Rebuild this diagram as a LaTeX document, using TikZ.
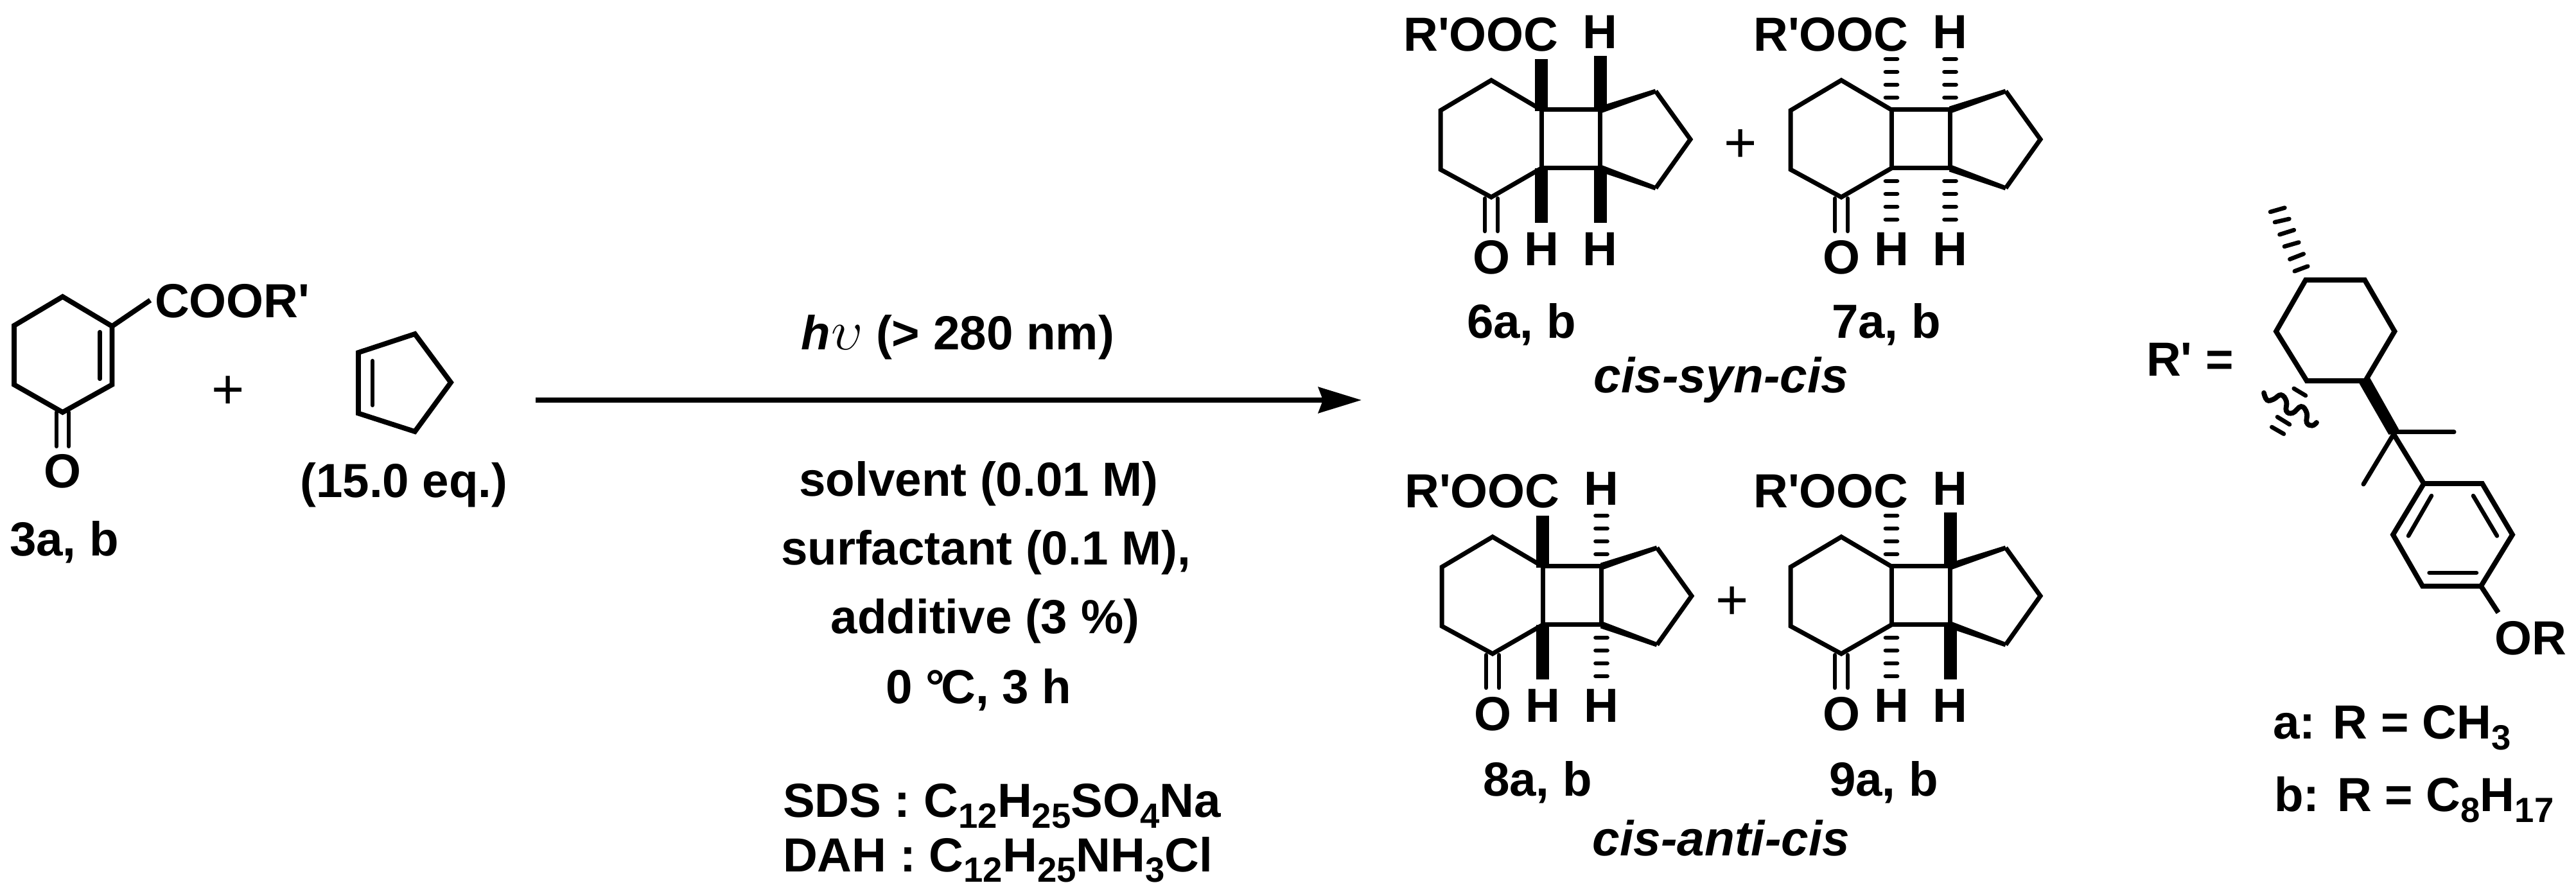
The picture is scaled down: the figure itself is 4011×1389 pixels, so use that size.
\documentclass[tikz,border=0pt]{standalone}
\usepackage{fontspec}
\usetikzlibrary{calc,arrows.meta}
\newfontfamily\chemf{Liberation Sans}
\newcommand{\chsub}[1]{\raisebox{-0.22em}{\fontsize{15.5}{15.5}\selectfont #1}}
\tikzset{
  txt/.style={font=\chemf\bfseries\fontsize{21.2}{21.2}\selectfont,inner sep=0pt,outer sep=0pt,anchor=base},
  txtl/.style={txt,anchor=base west},
  txti/.style={txt,font=\chemf\bfseries\itshape\fontsize{21.8}{21.8}\selectfont},
  plainplus/.style={font=\chemf\fontsize{25}{25}\selectfont,inner sep=0pt,anchor=center},
  bond/.style={line width=0.07cm,line join=miter,line cap=butt},
  bondb/.style={line width=0.078cm,line join=miter,line cap=butt},
  inner bond/.style={line width=0.065cm,line cap=round},
  solidb/.style={line width=0.2cm,line cap=butt},
  hashb/.style={line width=0.067cm,line cap=round},
  hashthin/.style={line width=0.066cm,line cap=round},
  rxn/.style={line width=0.08cm,-{Stealth[length=0.67cm,width=0.4cm,inset=0.07cm]}}
}
\newcommand{\solidup}[2]{\draw[solidb] (#1,173) -- (#1,#2);}
\newcommand{\solidbot}[1]{\draw[solidb] (#1,262) -- (#1,347);}
\newcommand{\hashup}[1]{\foreach \yy in {92,112,132,152} \draw[hashb] (#1-9,\yy) -- (#1+9,\yy);}
\newcommand{\hashbot}[1]{\foreach \yy in {282,302,322,342} \draw[hashb] (#1-9,\yy) -- (#1+9,\yy);}
\newcommand{\taper}[2]{\fill ($(#1)!0.055cm!90:(#2)$) -- ($(#1)!0.055cm!-90:(#2)$) -- ($(#2)!0.035cm!90:(#1)$) -- ($(#2)!0.035cm!-90:(#1)$) -- cycle;}
% #1 prefix, #2 dx, #3 dy, #4 stereo bonds
\newcommand{\tricycle}[4]{%
\begin{scope}[shift={(#2,#3)}]
  \coordinate (#1-ht) at (2322,125);
  \coordinate (#1-ul) at (2243,172);
  \coordinate (#1-ll) at (2243,264);
  \coordinate (#1-hb) at (2322,307);
  \coordinate (#1-sbl) at (2400,262);
  \coordinate (#1-stl) at (2400,171);
  \coordinate (#1-str) at (2491.5,171);
  \coordinate (#1-sbr) at (2491.5,262);
  \coordinate (#1-pt) at (2578,142);
  \coordinate (#1-pr) at (2632,217);
  \coordinate (#1-pb) at (2578,293);
  \coordinate (#1-o1) at (2312,309);
  \coordinate (#1-o2) at (2312,360);
  \coordinate (#1-o3) at (2332,309);
  \coordinate (#1-o4) at (2332,360);
  \draw[bond] (#1-stl) -- (#1-ht) -- (#1-ul) -- (#1-ll) -- (#1-hb) -- (#1-sbl);
  \draw[bond] (#1-stl) -- (#1-str) -- (#1-sbr) -- (#1-sbl) -- cycle;
  \draw[bond] (#1-pt) -- (#1-pr) -- (#1-pb);
  \taper{#1-str}{#1-pt}
  \taper{#1-sbr}{#1-pb}
  \draw[inner bond] (#1-o1) -- (#1-o2);
  \draw[inner bond] (#1-o3) -- (#1-o4);
  #4
  \node[txt] (#1-roc) at (2306,80) {R'OOC};
  \node[txt] (#1-h1) at (2491,76) {H};
  \node[txt] (#1-h3) at (2400,414) {H};
  \node[txt] (#1-h4) at (2491,414) {H};
  \node[txt] (#1-o) at (2322,427) {O};
\end{scope}}
\begin{document}
\begin{tikzpicture}[x=0.01cm,y=-0.01cm]
\useasboundingbox (0,0) rectangle (4011,1389);

% compound 3
\coordinate (a1) at (97.5,462);
\coordinate (a2) at (174.5,508);
\coordinate (a3) at (174.5,599);
\coordinate (a4) at (97.5,642);
\coordinate (a5) at (22,599);
\coordinate (a6) at (22,507);
\coordinate (a7) at (234,467.5);
\coordinate (a8) at (155.5,517);
\coordinate (a9) at (155.5,590);
\coordinate (a10) at (88,642);
\coordinate (a11) at (88,695);
\coordinate (a12) at (107,642);
\coordinate (a13) at (107,695);
\draw[bondb] (a2) -- (a1) -- (a6) -- (a5) -- (a4) -- (a3) -- cycle;
\draw[bondb] (a2) -- (a7);
\draw[inner bond] (a8) -- (a9);
\draw[inner bond] (a10) -- (a11);
\draw[inner bond] (a12) -- (a13);
\node[txtl] (coor) at (241,495) {COOR'};
\node[txt] (o3) at (97.5,760) {O};
\node[txt] (l3) at (100,866) {3a, b};
\node[plainplus] (p1) at (355,611) {+};

% cyclopentene
\coordinate (c1) at (558,549);
\coordinate (c2) at (646,520);
\coordinate (c3) at (702,595.5);
\coordinate (c4) at (646,672);
\coordinate (c5) at (558,643.6);
\coordinate (c6) at (580,562);
\coordinate (c7) at (580,631);
\draw[bondb] (c1) -- (c2) -- (c3) -- (c4) -- (c5) -- cycle;
\draw[inner bond] (c6) -- (c7);
\node[txt] (eq) at (629,775) {(15.0 eq.)};

% reaction arrow
\coordinate (arr1) at (834,623);
\coordinate (arr2) at (2120,623);
\draw[rxn] (arr1) -- (arr2);
\node[txt] (hv) at (1491,545) {{\itshape h}\kern0.02em{\fontsize{23}{23}\selectfont$\upsilon$} (> 280 nm)};
\node[txt] (c1t) at (1524,773) {solvent (0.01 M)};
\node[txt] (c2t) at (1535,880) {surfactant (0.1 M),};
\node[txt] (c3t) at (1534,987) {additive (3 \%)};
\node[txt] (c4t) at (1524,1096) {0 °\kern-0.08em C, 3 h};
\node[txtl] (sds) at (1219,1273) {SDS : C\chsub{12}H\chsub{25}SO\chsub{4}Na};
\node[txtl] (dah) at (1219,1357) {DAH : C\chsub{12}H\chsub{25}NH\chsub{3}Cl};

% products
\tricycle{six}{0}{0}{\solidup{2400}{92}\solidup{2491.5}{87}\solidbot{2400}\solidbot{2491.5}}
\tricycle{sev}{545}{0}{\hashup{2400}\hashup{2491.5}\hashbot{2400}\hashbot{2491.5}}
\tricycle{eig}{2}{711}{\solidup{2400}{92}\hashup{2491.5}\solidbot{2400}\hashbot{2491.5}}
\tricycle{nin}{545}{711}{\hashup{2400}\solidup{2491.5}{87}\hashbot{2400}\solidbot{2491.5}}
\node[plainplus] (p2) at (2710,227) {+};
\node[plainplus] (p3) at (2697,939) {+};
\node[txt] (l6) at (2369,527) {6a, b};
\node[txt] (l7) at (2937,527) {7a, b};
\node[txt] (l8) at (2394,1240) {8a, b};
\node[txt] (l9) at (2933,1240) {9a, b};
\node[txti] (syn) at (2680,612) {cis-syn-cis};
\node[txti] (anti) at (2680,1333) {cis-anti-cis};

% R' group
\node[txtl] (rp) at (3342,586) {R' =};
\coordinate (r1) at (3590,436);
\coordinate (r2) at (3682,436);
\coordinate (r3) at (3728.5,516);
\coordinate (r4) at (3683,593);
\coordinate (r5) at (3591.7,593);
\coordinate (r6) at (3544,516);
\draw[bondb] (r1) -- (r2) -- (r3) -- (r4) -- (r5) -- (r6) -- cycle;
% hashed methyl
\foreach \xa/\ya/\xb/\yb in {547/78/595/68,562/103/610/95,578/133/626/122,594/162/642/152,612/193/658/180,628/222/672/210}
  \draw[hashthin] ({\xa/2.145+3280},{\ya/1.56+280}) -- ({\xb/2.145+3280},{\yb/1.56+280});
% wavy bond
\draw[bondb,line cap=round] plot[smooth,tension=0.75] coordinates {(3525,611.7) (3530,623) (3540,621.7) (3551.7,615) (3560,625) (3560,640) (3570,643) (3583,633) (3591.7,643) (3591.7,658) (3600,662.7) (3607,658)};
\foreach \xa/\ya/\xb/\yb in {3571.7/605/3590/616,3546/649.3/3565/661,3537.3/665/3556/675.7}
  \draw[hashthin] (\xa,\ya) -- (\xb,\yb);
% quaternary carbon
\coordinate (q) at (3727,676);
\coordinate (qa) at (3719.3,676.7);
\coordinate (qb) at (3735,668.3);
\coordinate (wa) at (3673.3,596.7);
\coordinate (wb) at (3690,588.3);
\coordinate (q1) at (3821,673);
\coordinate (q2) at (3680,754);
\fill (wa) -- (wb) -- (qb) -- (q) -- (qa) -- cycle;
\draw[bond,line cap=round] (q2) -- (q);
\draw[bond,line cap=round] (3728,673) -- (q1);
% benzene ring
\coordinate (b1) at (3774,753);
\coordinate (b2) at (3865,753);
\coordinate (b3) at (3912,832.6);
\coordinate (b4) at (3863,912.7);
\coordinate (b5) at (3772,912.7);
\coordinate (b6) at (3726,832.6);
\draw[bondb] (q) -- (b1);
\draw[bondb] (b1) -- (b2) -- (b3) -- (b4) -- (b5) -- (b6) -- cycle;
\coordinate (i1) at (3786,772);
\coordinate (i2) at (3750,834.5);
\coordinate (i3) at (3851,772);
\coordinate (i4) at (3888,834.5);
\coordinate (i5) at (3782.5,892);
\coordinate (i6) at (3856,892);
\draw[inner bond] (i1) -- (i2);
\draw[inner bond] (i3) -- (i4);
\draw[inner bond] (i5) -- (i6);
\coordinate (orb) at (3890,954);
\draw[bondb] (b4) -- (orb);
\node[txtl] (or) at (3884,1020) {OR};
\node[txtl] (ra) at (3539,1151) {a: R = CH\chsub{3}};
\node[txtl] (rb) at (3541,1264) {b: R = C\chsub{8}H\chsub{17}};
\end{tikzpicture}
\end{document}
